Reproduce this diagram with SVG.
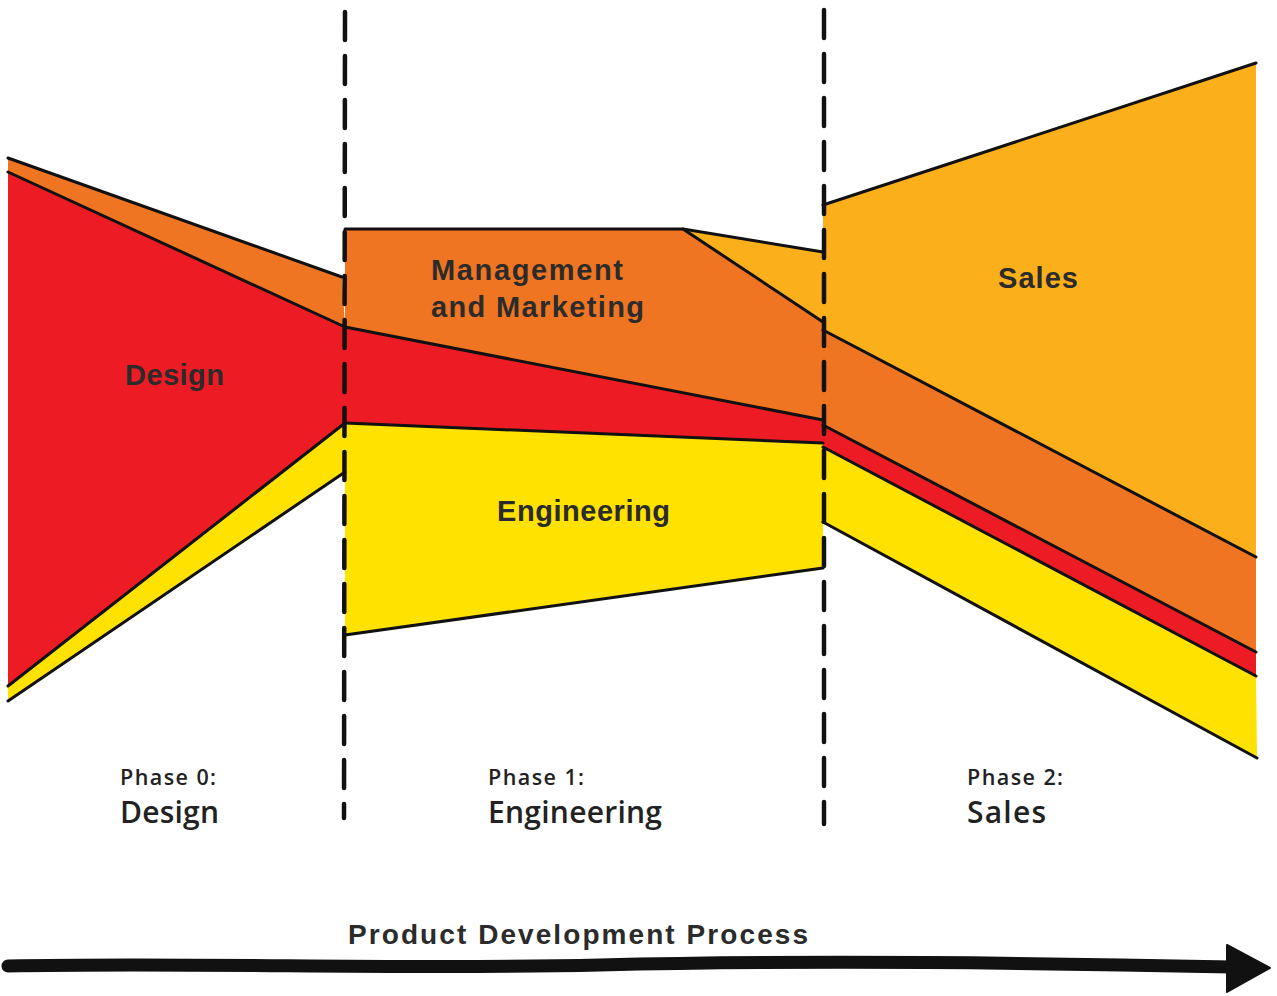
<svg xmlns="http://www.w3.org/2000/svg" width="1277" height="996" viewBox="0 0 1277 996">
<style>
.red{fill:#ED1C24}
.org{fill:#F07522}
.yel{fill:#FFE200}
.sal{fill:#FBAF1A}
.edge{fill:none;stroke:#111;stroke-width:3;stroke-linejoin:round;stroke-linecap:round}
.dash{fill:none;stroke:#111;stroke-width:4.5;stroke-dasharray:28 16;stroke-linecap:round}
.lbl{font-family:"Liberation Sans",Arial,sans-serif;font-weight:bold;fill:#2b2b2b}
.ph{font-family:"Open Sans","Liberation Sans",Arial,sans-serif;font-weight:600;fill:#222}
</style>
<rect width="1277" height="996" fill="#fff"/>
<g id="phase0">
<polygon class="org" points="8,158 342,277 345,327 8,172"/>
<polygon class="red" points="8,172 345,327 345,423 8,686"/>
<polygon class="yel" points="8,686 345,423 345,472 8,701"/>
</g>
<g id="phase1">
<polygon class="org" points="345,229 683,229 823,322 823,420 345,327"/>
<polygon class="sal" points="683,229 823,252 823,322"/>
<polygon class="red" points="345,327 823,420 823,443 345,423"/>
<polygon class="yel" points="345,423 823,443 823,568 345,635"/>
</g>
<g id="phase2">
<polygon class="sal" points="823,205 1256,63 1256,557 823,330"/>
<polygon class="org" points="823,330 1256,557 1256,652 823,425"/>
<polygon class="red" points="823,425 1256,652 1256,676 823,447"/>
<polygon class="yel" points="823,447 1256,676 1257,758 823,522"/>
</g>
<g id="edges">
<polyline class="edge" points="8,158 342,277"/>
<polyline class="edge" points="8,172 345,327"/>
<polyline class="edge" points="8,686 345,423"/>
<polyline class="edge" points="8,701 345,472"/>
<polyline class="edge" points="345,229 683,229 823,252"/>
<polyline class="edge" points="683,229 823,322"/>
<polyline class="edge" points="345,327 823,420"/>
<polyline class="edge" points="345,423 823,443"/>
<polyline class="edge" points="345,635 823,568"/>
<polyline class="edge" points="823,205 1256,63"/>
<polyline class="edge" points="823,330 1256,557"/>
<polyline class="edge" points="823,425 1256,652"/>
<polyline class="edge" points="823,447 1256,676"/>
<polyline class="edge" points="823,522 1257,758"/>
</g>
<g id="dividers">
<line class="dash" x1="345" y1="12" x2="344" y2="818"/>
<line class="dash" x1="824" y1="10" x2="824" y2="824"/>
</g>
<g id="band-labels">
<text class="lbl" x="125" y="385" font-size="29" textLength="99" lengthAdjust="spacing">Design</text>
<text class="lbl" x="431" y="280" font-size="29" textLength="192" lengthAdjust="spacing">Management</text>
<text class="lbl" x="431" y="317" font-size="29" textLength="213" lengthAdjust="spacing">and Marketing</text>
<text class="lbl" x="497" y="521" font-size="29" textLength="173" lengthAdjust="spacing">Engineering</text>
<text class="lbl" x="998" y="288" font-size="29" textLength="80" lengthAdjust="spacing">Sales</text>
</g>
<g id="phase-labels">
<text class="ph" x="120" y="785" font-size="21.5" textLength="96" lengthAdjust="spacing">Phase 0:</text>
<text class="ph" x="120" y="823" font-size="30" textLength="99" lengthAdjust="spacing">Design</text>
<text class="ph" x="488" y="785" font-size="21.5" textLength="96" lengthAdjust="spacing">Phase 1:</text>
<text class="ph" x="488" y="823" font-size="30" textLength="174" lengthAdjust="spacing">Engineering</text>
<text class="ph" x="967" y="785" font-size="21.5" textLength="96" lengthAdjust="spacing">Phase 2:</text>
<text class="ph" x="967" y="823" font-size="30" textLength="79" lengthAdjust="spacing">Sales</text>
</g>
<g id="axis">
<text class="lbl" x="348" y="944" font-size="28" fill="#111" textLength="460" lengthAdjust="spacing">Product Development Process</text>
<path d="M8,966 C200,962 400,970 600,965 S1000,962 1232,967" fill="none" stroke="#111" stroke-width="13" stroke-linecap="round"/>
<polygon points="1227,945 1270,968 1227,992" fill="#111" stroke="#111" stroke-width="2" stroke-linejoin="round"/>
</g>
</svg>
